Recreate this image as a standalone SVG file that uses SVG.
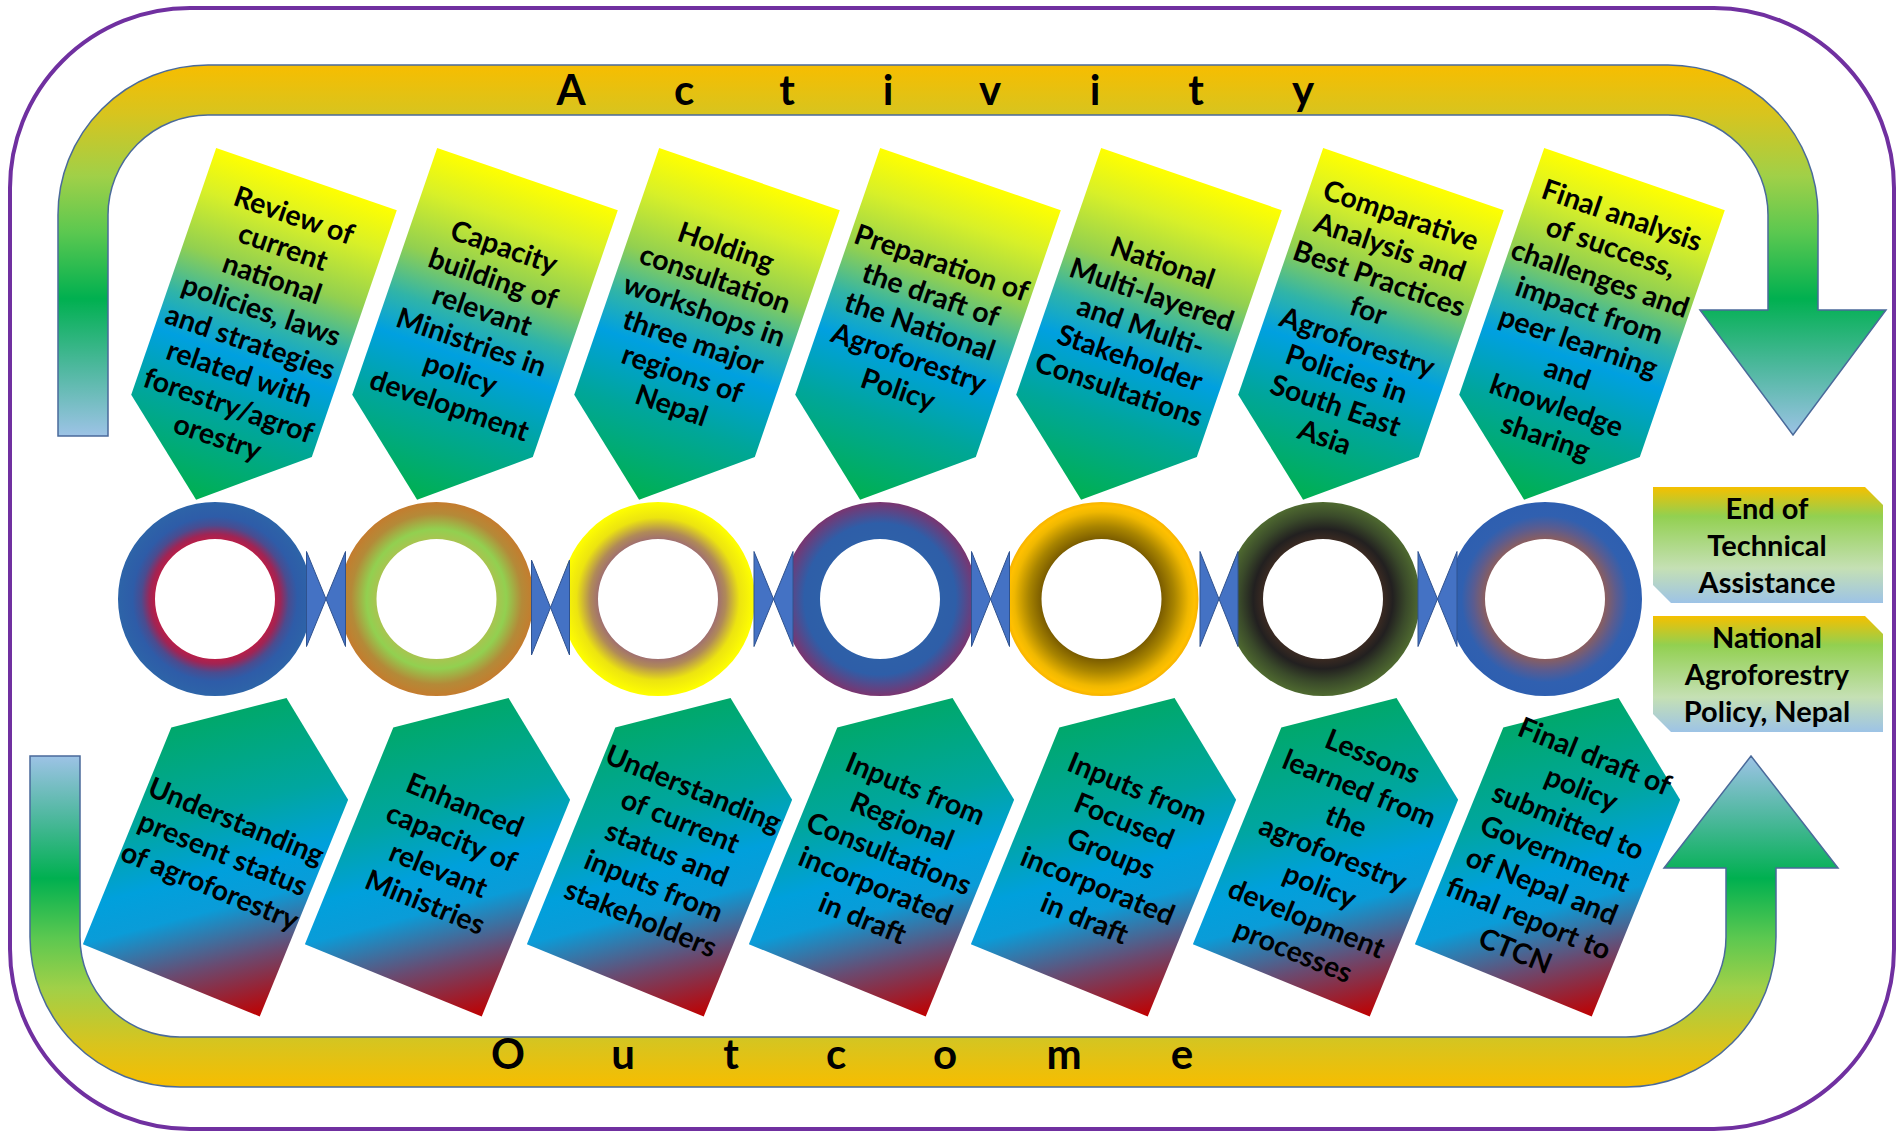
<svg xmlns="http://www.w3.org/2000/svg" xmlns:xlink="http://www.w3.org/1999/xlink" width="1904" height="1132" viewBox="0 0 1904 1132">
<style>
.t{font-family:Lato,"Liberation Sans",sans-serif;font-weight:700;fill:#000;text-anchor:middle}
.pt{font-size:28.5px}
.big{font-size:42px}
.bx{font-size:29px}
.arr{stroke:#4a6a9a;stroke-width:1.5}
.bt{fill:#4472c4;stroke:#2f528f;stroke-width:1}
</style>
<defs>
<linearGradient id="gArrTop" gradientUnits="userSpaceOnUse" x1="0" y1="65" x2="0" y2="436">
<stop offset="0" stop-color="#f7bd00"/><stop offset="0.13" stop-color="#d8c41e"/><stop offset="0.3" stop-color="#a0d048"/><stop offset="0.45" stop-color="#5cc850"/><stop offset="0.63" stop-color="#00b050"/><stop offset="0.82" stop-color="#50b8a0"/><stop offset="1" stop-color="#9dc3e6"/>
</linearGradient>
<linearGradient id="gArrBot" gradientUnits="userSpaceOnUse" x1="0" y1="1087" x2="0" y2="756">
<stop offset="0" stop-color="#f7bd00"/><stop offset="0.13" stop-color="#d8c41e"/><stop offset="0.3" stop-color="#a0d048"/><stop offset="0.45" stop-color="#5cc850"/><stop offset="0.63" stop-color="#00b050"/><stop offset="0.82" stop-color="#50b8a0"/><stop offset="1" stop-color="#9dc3e6"/>
</linearGradient>
<linearGradient id="gAct" x1="0" y1="0" x2="0" y2="1">
<stop offset="0" stop-color="#ffff00"/><stop offset="0.13" stop-color="#d8f028"/><stop offset="0.3" stop-color="#92d050"/><stop offset="0.44" stop-color="#30b4a8"/><stop offset="0.56" stop-color="#00a0e0"/><stop offset="0.75" stop-color="#00a69a"/><stop offset="1" stop-color="#00b050"/>
</linearGradient>
<linearGradient id="gOut" gradientUnits="userSpaceOnUse" x1="-90" y1="-121" x2="90" y2="121">
<stop offset="0" stop-color="#00a86b"/><stop offset="0.3" stop-color="#00a6a0"/><stop offset="0.5" stop-color="#00a0dc"/><stop offset="0.62" stop-color="#0a9cd8"/><stop offset="0.8" stop-color="#6a4a70"/><stop offset="1" stop-color="#c00000"/>
</linearGradient>
<linearGradient id="gBox" x1="0" y1="0" x2="0" y2="1">
<stop offset="0" stop-color="#f5c000"/><stop offset="0.25" stop-color="#92d050"/><stop offset="0.7" stop-color="#c5e0b4"/><stop offset="1" stop-color="#9dc3e6"/>
</linearGradient>
<radialGradient id="r1" gradientUnits="userSpaceOnUse" cx="0" cy="0" r="97">
<stop offset="0.619" stop-color="#b81e48"/><stop offset="0.67" stop-color="#a02454"/><stop offset="0.76" stop-color="#4a4c90"/><stop offset="0.85" stop-color="#2e5ca8"/><stop offset="1" stop-color="#2d64a8"/>
</radialGradient>
<radialGradient id="r2" gradientUnits="userSpaceOnUse" cx="0" cy="0" r="97">
<stop offset="0.619" stop-color="#a8c450"/><stop offset="0.72" stop-color="#92d050"/><stop offset="0.88" stop-color="#b48a38"/><stop offset="1" stop-color="#c47c2e"/>
</radialGradient>
<radialGradient id="r3" gradientUnits="userSpaceOnUse" cx="0" cy="0" r="97">
<stop offset="0.619" stop-color="#a07070"/><stop offset="0.7" stop-color="#b08a58"/><stop offset="0.84" stop-color="#ece410"/><stop offset="1" stop-color="#ffff00"/>
</radialGradient>
<radialGradient id="r4" gradientUnits="userSpaceOnUse" cx="0" cy="0" r="97">
<stop offset="0.619" stop-color="#2e60a8"/><stop offset="0.78" stop-color="#2e5ea8"/><stop offset="1" stop-color="#7a3570"/>
</radialGradient>
<radialGradient id="r5" gradientUnits="userSpaceOnUse" cx="0" cy="0" r="97">
<stop offset="0.619" stop-color="#7a5c00"/><stop offset="0.75" stop-color="#a88400"/><stop offset="0.9" stop-color="#f0b800"/><stop offset="0.96" stop-color="#ffc000"/><stop offset="1" stop-color="#f8b400"/>
</radialGradient>
<radialGradient id="r6" gradientUnits="userSpaceOnUse" cx="0" cy="0" r="97">
<stop offset="0.619" stop-color="#3a2a22"/><stop offset="0.72" stop-color="#222020"/><stop offset="0.86" stop-color="#3a4a2a"/><stop offset="1" stop-color="#4f6a30"/>
</radialGradient>
<radialGradient id="r7" gradientUnits="userSpaceOnUse" cx="0" cy="0" r="97">
<stop offset="0.619" stop-color="#8a5e60"/><stop offset="0.74" stop-color="#5a5c90"/><stop offset="0.86" stop-color="#3060b0"/><stop offset="1" stop-color="#2e5fb0"/>
</radialGradient>
<path id="actShape" d="M-95.5,-130.5 L95.5,-130.5 L95.5,130.5 L0,208.5 L-95.5,130.5 Z"/>
<path id="outShape" d="M-95.5,-117 L0,-188 L95.5,-117 L95.5,117 L-95.5,117 Z"/>
<path id="ring" fill-rule="evenodd" d="M-97,0a97,97 0 1,0 194,0a97,97 0 1,0 -194,0Z M-60,0a60,60 0 1,0 120,0a60,60 0 1,0 -120,0Z"/>
</defs>

<rect id="frame" x="10" y="8" width="1884" height="1121" rx="180" ry="180" fill="#fff" stroke="#7030a0" stroke-width="4"/>

<g id="activity-arrow">
<path class="arr" fill="url(#gArrTop)" d="M58,436 L58,215 A150,150 0 0 1 208,65 L1668,65 A150,150 0 0 1 1818,215 L1818,310 L1886,310 L1793,435 L1700,310 L1768,310 L1768,215 A100,100 0 0 0 1668,115 L208,115 A100,100 0 0 0 108,215 L108,436 Z"/>
<g class="t big">
<text x="571" y="105">A</text><text x="684" y="105">c</text><text x="787" y="105">t</text><text x="888" y="105">i</text><text x="990" y="105">v</text><text x="1095" y="105">i</text><text x="1196" y="105">t</text><text x="1303" y="105">y</text>
</g>
</g>

<g id="outcome-arrow">
<path class="arr" fill="url(#gArrBot)" d="M30,756 L30,937 A150,150 0 0 0 180,1087 L1626,1087 A150,150 0 0 0 1776,937 L1776,868 L1838,868 L1751,756 L1664,868 L1726,868 L1726,937 A100,100 0 0 1 1626,1037 L180,1037 A100,100 0 0 1 80,937 L80,756 Z"/>
<g class="t big">
<text x="508" y="1069">O</text><text x="623" y="1069">u</text><text x="731" y="1069">t</text><text x="836" y="1069">c</text><text x="945" y="1069">o</text><text x="1064" y="1069">m</text><text x="1182" y="1069">e</text>
</g>
</g>

<g id="act1" transform="translate(264,302.5) rotate(19)">
<use xlink:href="#actShape" fill="url(#gAct)"/>
<text class="t pt"><tspan x="0" y="-82.25">Review of</tspan><tspan x="0" y="-48.75">current</tspan><tspan x="0" y="-15.25">national</tspan><tspan x="0" y="18.25">policies, laws</tspan><tspan x="0" y="51.75">and strategies</tspan><tspan x="0" y="85.25">related with</tspan><tspan x="0" y="118.75">forestry/agrof</tspan><tspan x="0" y="152.25">orestry</tspan></text>
</g>
<g id="act2" transform="translate(485,302.5) rotate(19)">
<use xlink:href="#actShape" fill="url(#gAct)"/>
<text class="t pt"><tspan x="0" y="-48.75">Capacity</tspan><tspan x="0" y="-15.25">building of</tspan><tspan x="0" y="18.25">relevant</tspan><tspan x="0" y="51.75">Ministries in</tspan><tspan x="0" y="85.25">policy</tspan><tspan x="0" y="118.75">development</tspan></text>
</g>
<g id="act3" transform="translate(707,302.5) rotate(19)">
<use xlink:href="#actShape" fill="url(#gAct)"/>
<text class="t pt"><tspan x="0" y="-48.75">Holding</tspan><tspan x="0" y="-15.25">consultation</tspan><tspan x="0" y="18.25">workshops in</tspan><tspan x="0" y="51.75">three major</tspan><tspan x="0" y="85.25">regions of</tspan><tspan x="0" y="118.75">Nepal</tspan></text>
</g>
<g id="act4" transform="translate(928,302.5) rotate(19)">
<use xlink:href="#actShape" fill="url(#gAct)"/>
<text class="t pt"><tspan x="0" y="-32">Preparation of</tspan><tspan x="0" y="1.5">the draft of</tspan><tspan x="0" y="35">the National</tspan><tspan x="0" y="68.5">Agroforestry</tspan><tspan x="0" y="102">Policy</tspan></text>
</g>
<g id="act5" transform="translate(1149,302.5) rotate(19)">
<use xlink:href="#actShape" fill="url(#gAct)"/>
<text class="t pt"><tspan x="0" y="-32">National</tspan><tspan x="0" y="1.5">Multi-layered</tspan><tspan x="0" y="35">and Multi-</tspan><tspan x="0" y="68.5">Stakeholder</tspan><tspan x="0" y="102">Consultations</tspan></text>
</g>
<g id="act6" transform="translate(1371,302.5) rotate(19)">
<use xlink:href="#actShape" fill="url(#gAct)"/>
<text class="t pt"><tspan x="0" y="-82.25">Comparative</tspan><tspan x="0" y="-48.75">Analysis and</tspan><tspan x="0" y="-15.25">Best Practices</tspan><tspan x="0" y="18.25">for</tspan><tspan x="0" y="51.75">Agroforestry</tspan><tspan x="0" y="85.25">Policies in</tspan><tspan x="0" y="118.75">South East</tspan><tspan x="0" y="152.25">Asia</tspan></text>
</g>
<g id="act7" transform="translate(1592,302.5) rotate(19)">
<use xlink:href="#actShape" fill="url(#gAct)"/>
<text class="t pt"><tspan x="0" y="-82.25">Final analysis</tspan><tspan x="0" y="-48.75">of success,</tspan><tspan x="0" y="-15.25">challenges and</tspan><tspan x="0" y="18.25">impact from</tspan><tspan x="0" y="51.75">peer learning</tspan><tspan x="0" y="85.25">and</tspan><tspan x="0" y="118.75">knowledge</tspan><tspan x="0" y="152.25">sharing</tspan></text>
</g>

<g id="ring1" transform="translate(215,599)"><use xlink:href="#ring" fill="url(#r1)"/></g>
<g id="ring2" transform="translate(436.5,599)"><use xlink:href="#ring" fill="url(#r2)"/></g>
<g id="ring3" transform="translate(658,599)"><use xlink:href="#ring" fill="url(#r3)"/></g>
<g id="ring4" transform="translate(880,599)"><use xlink:href="#ring" fill="url(#r4)"/></g>
<g id="ring5" transform="translate(1101.5,599)"><use xlink:href="#ring" fill="url(#r5)"/></g>
<g id="ring6" transform="translate(1323,599)"><use xlink:href="#ring" fill="url(#r6)"/></g>
<g id="ring7" transform="translate(1545,599)"><use xlink:href="#ring" fill="url(#r7)"/></g>

<g id="connectors">
<polygon class="bt" points="306.5,551.5 326,599 306.5,646.5"/><polygon class="bt" points="345.5,551.5 326,599 345.5,646.5"/>
<polygon class="bt" points="531.5,560 550.5,607.5 531.5,655"/><polygon class="bt" points="569.5,560 550.5,607.5 569.5,655"/>
<polygon class="bt" points="754,551.5 773.5,599 754,646.5"/><polygon class="bt" points="793,551.5 773.5,599 793,646.5"/>
<polygon class="bt" points="971.5,551.5 990.5,599 971.5,646.5"/><polygon class="bt" points="1009.5,551.5 990.5,599 1009.5,646.5"/>
<polygon class="bt" points="1200,551.5 1219,599 1200,646.5"/><polygon class="bt" points="1238,551.5 1219,599 1238,646.5"/>
<polygon class="bt" points="1418,551.5 1437.5,599 1418,646.5"/><polygon class="bt" points="1457,551.5 1437.5,599 1457,646.5"/>
</g>

<g id="out1" transform="translate(215.5,872) rotate(22.2)">
<use xlink:href="#outShape" fill="url(#gOut)"/>
<text class="t pt"><tspan x="0" y="-45">Understanding</tspan><tspan x="0" y="-10">present status</tspan><tspan x="0" y="25">of agroforestry</tspan></text>
</g>
<g id="out2" transform="translate(437.5,872) rotate(22.2)">
<use xlink:href="#outShape" fill="url(#gOut)"/>
<text class="t pt"><tspan x="0" y="-62.5">Enhanced</tspan><tspan x="0" y="-27.5">capacity of</tspan><tspan x="0" y="7.5">relevant</tspan><tspan x="0" y="42.5">Ministries</tspan></text>
</g>
<g id="out3" transform="translate(659.5,872) rotate(22.2)">
<use xlink:href="#outShape" fill="url(#gOut)"/>
<text class="t pt"><tspan x="0" y="-80">Understanding</tspan><tspan x="0" y="-45">of current</tspan><tspan x="0" y="-10">status and</tspan><tspan x="0" y="25">inputs from</tspan><tspan x="0" y="60">stakeholders</tspan></text>
</g>
<g id="out4" transform="translate(881.5,872) rotate(22.2)">
<use xlink:href="#outShape" fill="url(#gOut)"/>
<text class="t pt"><tspan x="0" y="-80">Inputs from</tspan><tspan x="0" y="-45">Regional</tspan><tspan x="0" y="-10">Consultations</tspan><tspan x="0" y="25">incorporated</tspan><tspan x="0" y="60">in draft</tspan></text>
</g>
<g id="out5" transform="translate(1103.5,872) rotate(22.2)">
<use xlink:href="#outShape" fill="url(#gOut)"/>
<text class="t pt"><tspan x="0" y="-80">Inputs from</tspan><tspan x="0" y="-45">Focused</tspan><tspan x="0" y="-10">Groups</tspan><tspan x="0" y="25">incorporated</tspan><tspan x="0" y="60">in draft</tspan></text>
</g>
<g id="out6" transform="translate(1325.5,872) rotate(22.2)">
<use xlink:href="#outShape" fill="url(#gOut)"/>
<text class="t pt"><tspan x="0" y="-115">Lessons</tspan><tspan x="0" y="-80">learned from</tspan><tspan x="0" y="-45">the</tspan><tspan x="0" y="-10">agroforestry</tspan><tspan x="0" y="25">policy</tspan><tspan x="0" y="60">development</tspan><tspan x="0" y="95">processes</tspan></text>
</g>
<g id="out7" transform="translate(1547.5,872) rotate(22.2)">
<use xlink:href="#outShape" fill="url(#gOut)"/>
<text class="t pt"><tspan x="0" y="-115">Final draft of</tspan><tspan x="0" y="-80">policy</tspan><tspan x="0" y="-45">submitted to</tspan><tspan x="0" y="-10">Government</tspan><tspan x="0" y="25">of Nepal and</tspan><tspan x="0" y="60">final report to</tspan><tspan x="0" y="95">CTCN</tspan></text>
</g>

<g id="end-box">
<path fill="url(#gBox)" d="M1653,487 L1865,487 L1883,505 L1883,603 L1671,603 L1653,585 Z"/>
<text class="t bx"><tspan x="1767" y="519">End of</tspan><tspan x="1767" y="556">Technical</tspan><tspan x="1767" y="593">Assistance</tspan></text>
</g>
<g id="policy-box">
<path fill="url(#gBox)" d="M1653,616 L1865,616 L1883,634 L1883,732 L1671,732 L1653,714 Z"/>
<text class="t bx"><tspan x="1767" y="648">National</tspan><tspan x="1767" y="685">Agroforestry</tspan><tspan x="1767" y="722">Policy, Nepal</tspan></text>
</g>
</svg>
